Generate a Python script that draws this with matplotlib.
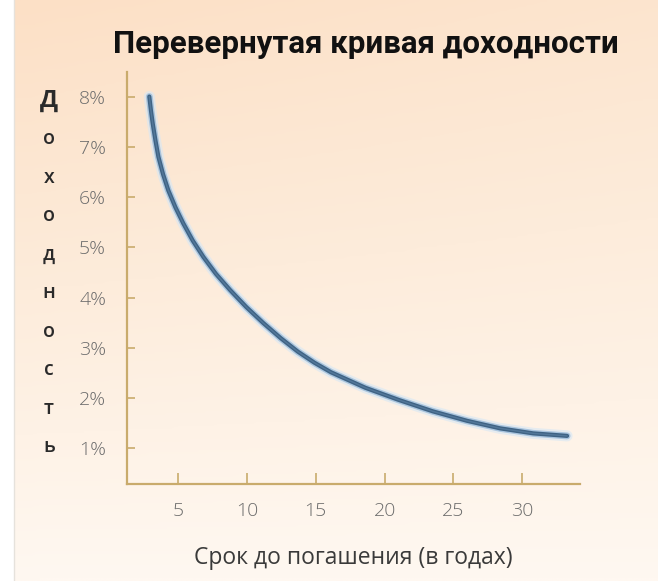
import numpy as np
import matplotlib
matplotlib.use("Agg")
import matplotlib.pyplot as plt
from matplotlib.colors import LinearSegmentedColormap

# data
years = [2.90, 3.02, 3.15, 3.35, 3.56, 3.9, 4.28, 4.8, 5.37, 6.05, 6.83, 7.75, 8.77,
         9.95, 11.19, 12.45, 13.7, 14.9, 16.1, 18.6, 21.0, 23.5, 26.0, 28.4, 30.8, 33.26]
yields = [8.01, 7.73, 7.47, 7.13, 6.81, 6.46, 6.14, 5.80, 5.48, 5.14, 4.81, 4.47, 4.15,
          3.81, 3.49, 3.19, 2.92, 2.70, 2.51, 2.20, 1.96, 1.73, 1.54, 1.39, 1.29, 1.24]
xticks = [5, 10, 15, 20, 25, 30]
yticks = [1, 2, 3, 4, 5, 6, 7, 8]
title = "Перевернутая кривая доходности"
xlabel = "Срок до погашения (в годах)"
ylabel = "Доходность"

W, H = 658, 581
fig = plt.figure(figsize=(W / 100, H / 100), dpi=100, facecolor="white")

# cream background panel with a soft gradient
bg = fig.add_axes([15 / W, 0, 1 - 15 / W, 1])
bg.set_axis_off()
cmap = LinearSegmentedColormap.from_list("bg", ["#fce0c6", "#fdecdb", "#fff8f1"])
g = np.linspace(0, 1, 256).reshape(-1, 1) * np.ones((1, 64))
gx = np.linspace(0, 0.2, 64).reshape(1, -1)
bg.imshow(np.clip(g + gx * (1 - g), 0, 1), cmap=cmap, aspect="auto",
          extent=[0, 1, 0, 1], origin="upper")
bg.set_xlim(0, 1)
bg.set_ylim(0, 1)
fig.add_artist(plt.Line2D([14 / W, 14 / W], [0, 1], color="#e6e2dc", lw=1))

# main axes
ax = fig.add_axes([127 / W, 97 / H, (580 - 127) / W, (484 - 72) / H])
ax.patch.set_alpha(0)
axc = "#c9ab6c"
for s in ["top", "right"]:
    ax.spines[s].set_visible(False)
for s in ["left", "bottom"]:
    ax.spines[s].set_color(axc)
    ax.spines[s].set_linewidth(1.6)

# glowing blue curve
ax.plot(years, yields, color="#d6e7f5", lw=8, alpha=0.6,
        solid_capstyle="round", solid_joinstyle="round")
ax.plot(years, yields, color="#9bbcdb", lw=5, alpha=0.8,
        solid_capstyle="round", solid_joinstyle="round")
ax.plot(years, yields, color="#3f6384", lw=3.0,
        solid_capstyle="round", solid_joinstyle="round")
ax.plot(years, yields, color="#5b80a3", lw=1.0, alpha=0.7,
        solid_capstyle="round", solid_joinstyle="round")

ax.set_xlim(1.28, 34.2)
ax.set_ylim(0.28, 8.5)
ax.set_xticks(xticks)
ax.set_yticks(yticks)
ax.set_yticklabels([f"{v}%" for v in yticks])
ax.tick_params(axis="both", direction="in", color=axc, width=1.2,
               labelsize=14, labelcolor="#6c6c6c")
ax.tick_params(axis="y", length=6, pad=15)
ax.tick_params(axis="x", length=8, pad=13)
for lab in ax.get_xticklabels() + ax.get_yticklabels():
    lab.set_family(["Open Sans", "DejaVu Sans"])
    lab.set_fontweight("light")

ax.set_xlabel(xlabel, fontsize=16.5, color="#3a3a3a", labelpad=19,
              family=["Open Sans", "DejaVu Sans"])

fig.text(366 / W, 1 - 44 / H, title, ha="center", va="center",
         fontsize=22.5, fontweight="bold", color="#111111",
         family=["Liberation Sans Narrow", "Roboto"])

# vertical y label, one letter per line
top_px, bot_px = 101, 447
for i, ch in enumerate(ylabel):
    ypx = top_px + i * (bot_px - top_px) / (len(ylabel) - 1)
    fig.text(49 / W, 1 - ypx / H, ch, ha="center", va="center",
             fontsize=17 if i == 0 else 14, fontweight="bold" if i == 0 else "semibold",
             color="#2a2a2a", family=["Open Sans", "DejaVu Sans"])

fig.savefig("out.png", dpi=100, facecolor="white")
